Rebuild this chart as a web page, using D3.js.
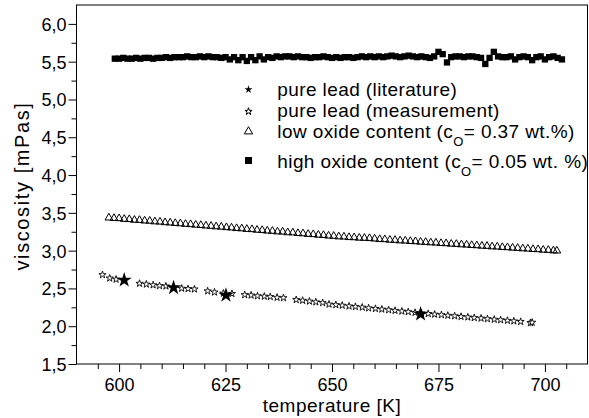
<!DOCTYPE html>
<html><head><meta charset="utf-8">
<script src="https://cdn.jsdelivr.net/npm/d3@7/dist/d3.min.js"></script>
<style>
body{margin:0;background:#fff;}
text{font-family:"Liberation Sans",Arial,sans-serif;fill:#000;}
</style></head>
<body><svg id="c" width="589" height="418"></svg>
<script>
// ---- data ----
const squareT = [599,600,601,602,603,604,605,606,607,608,609,610,611,612,613,614,
615,616,617,618,619,620,621,622,623,624,625,
626,627,628,629,630,631,632,633,634,635,636,
637,638,639,640,641,642,643,644,645,646,647,648,649,650,651,652,653,654,655,656,657,658,659,
660,661,662,663,664,665,666,667,668,669,670,671,672,673,674,
675,676,677,
678,679,680,681,682,683,684,685,
686,687,688,
689,690,691,692,693,694,695,696,697,698,699,700,701,702,703,704];
const squareV = [5.54,5.54,5.55,5.54,5.54,5.55,5.54,5.55,5.55,5.54,5.55,5.55,5.56,5.55,5.56,5.56,
5.56,5.57,5.56,5.56,5.57,5.56,5.57,5.56,5.56,5.55,5.56,
5.53,5.56,5.52,5.56,5.51,5.56,5.52,5.57,5.53,5.56,5.55,
5.57,5.56,5.57,5.57,5.56,5.57,5.56,5.56,5.55,5.56,5.56,5.57,5.56,5.55,5.56,5.55,5.56,5.56,5.55,5.56,5.57,5.56,5.57,
5.56,5.57,5.56,5.57,5.58,5.57,5.56,5.57,5.58,5.57,5.56,5.57,5.56,5.55,5.57,
5.63,5.60,5.49,
5.56,5.57,5.57,5.56,5.57,5.57,5.56,5.55,
5.47,5.55,5.63,
5.57,5.56,5.56,5.57,5.53,5.56,5.57,5.56,5.52,5.56,5.57,5.53,5.56,5.57,5.55,5.53];

const triT = [597.6,598.8,600.0,601.2,602.4,603.6,604.8,606.0,607.2,608.4,
609.6,610.8,612.0,613.2,614.4,615.6,616.8,618.0,619.2,620.4,
621.6,622.8,624.0,625.2,626.4,627.6,628.8,630.0,631.2,632.4,
633.6,634.8,636.0,637.2,638.4,639.6,640.8,642.0,643.2,644.4,
645.6,646.8,648.0,649.2,650.4,651.6,652.8,654.0,655.2,656.4,
657.6,658.8,660.0,661.2,662.4,663.6,664.8,666.0,667.2,668.4,
669.6,670.8,672.0,673.2,674.4,675.6,676.8,678.0,679.2,680.4,
681.6,682.8,684.0,685.2,686.4,687.6,688.8,690.0,691.2,692.4,
693.6,694.8,696.0,697.2,698.4,699.6,700.8,702.0,702.8];
const triV = [3.435,3.428,3.426,3.417,3.414,3.405,3.403,3.395,3.392,3.384,
3.381,3.373,3.369,3.362,3.358,3.351,3.347,3.340,3.336,3.329,
3.325,3.318,3.314,3.307,3.303,3.295,3.292,3.284,3.281,3.273,
3.270,3.262,3.259,3.251,3.249,3.240,3.238,3.229,3.226,3.218,
3.215,3.207,3.204,3.196,3.193,3.185,3.183,3.176,3.174,3.168,
3.166,3.163,3.157,3.150,3.148,3.141,3.139,3.132,3.130,3.124,
3.121,3.115,3.112,3.106,3.104,3.097,3.095,3.088,3.086,3.080,
3.077,3.071,3.068,3.062,3.060,3.053,3.051,3.044,3.042,3.036,
3.033,3.027,3.024,3.018,3.016,3.009,3.007,3.000,2.998];

const measT = [596.1,597.8,599.3,604.8,606.4,608.0,609.5,611.0,614.7,616.2,617.7,
620.8,622.4,624.5,626.5,629.5,631.0,632.5,634.1,635.5,637.1,638.6,
641.6,643.1,644.7,646.2,647.8,649.3,650.9,652.4,654.0,655.5,657.1,658.6,660.2,661.7,663.3,664.8,666.4,667.9,669.5,
671.0,672.6,674.1,675.7,677.2,678.8,680.3,681.9,683.4,685.0,686.5,688.1,689.6,691.2,692.7,694.3,696.6,697.0];
const measV = [2.68,2.635,2.62,2.565,2.555,2.545,2.535,2.53,2.50,2.495,2.49,
2.465,2.45,2.435,2.43,2.415,2.41,2.40,2.395,2.39,2.38,2.375,
2.35,2.34,2.33,2.32,2.31,2.29,2.283,2.275,2.265,2.258,2.25,2.24,2.232,2.224,2.215,2.207,2.198,2.19,2.18,
2.173,2.165,2.157,2.15,2.142,2.135,2.127,2.12,2.112,2.105,2.097,2.09,2.083,2.075,2.068,2.06,2.045,2.05];

const litT = [601.2,612.8,625.1,670.8];
const litV = [2.61,2.51,2.41,2.16];

const xTicks = [600,625,650,675,700];
const xMinor = [595,605,610,615,620,630,635,640,645,655,660,665,670,680,685,690,695,705];
const yTicks = [1.5,2.0,2.5,3.0,3.5,4.0,4.5,5.0,5.5,6.0];
const yMinor = [1.75,2.25,2.75,3.25,3.75,4.25,4.75,5.25,5.75];

const legendItems = ["pure lead (literature)","pure lead (measurement)",
  ["low oxide content (c","O","= 0.37 wt.%)"],
  ["high oxide content (c","O","= 0.05 wt. %)"]];

// ---- chart ----
const svg = d3.select("#c");
const L=76.5, R=587.5, T=5, B=364;
const x = d3.scaleLinear().domain([590,710]).range([L,R]);
const y = d3.scaleLinear().domain([1.5,6.25]).range([B,T]);
const fmt = d => d3.format(".1f")(d).replace(".",",");

// axes
const gx = svg.append("g").attr("transform",`translate(0,${B})`);
gx.call(d3.axisBottom(x).tickValues(xMinor).tickSize(5).tickFormat(""));
gx.call(g=>g.select(".domain").remove());
const gx2 = svg.append("g").attr("transform",`translate(0,${B})`)
  .call(d3.axisBottom(x).tickValues(xTicks).tickSize(8).tickPadding(6).tickFormat(d3.format("d")));
gx2.select(".domain").remove();
gx2.selectAll("text").attr("font-size",18).attr("font-family","Liberation Sans, Arial");

const gy = svg.append("g").attr("transform",`translate(${L},0)`);
gy.call(d3.axisLeft(y).tickValues(yMinor).tickSize(5).tickFormat(""));
gy.select(".domain").remove();
const gy2 = svg.append("g").attr("transform",`translate(${L},0)`)
  .call(d3.axisLeft(y).tickValues(yTicks).tickSize(8).tickPadding(2).tickFormat(fmt));
gy2.select(".domain").remove();
gy2.selectAll("text").attr("font-size",18).attr("font-family","Liberation Sans, Arial").attr("dy","0.36em");
svg.selectAll(".tick line").attr("stroke","#000");

// frame
svg.append("rect").attr("x",L).attr("y",T).attr("width",R-L).attr("height",B-T)
  .attr("fill","none").attr("stroke","#000").attr("stroke-width",1);

// titles
svg.append("text").attr("x",(L+R)/2).attr("y",412).attr("text-anchor","middle")
  .attr("font-size",19).attr("letter-spacing",0.5).text("temperature [K]");
svg.append("text").attr("transform","translate(29,186) rotate(-90)").attr("text-anchor","middle")
  .attr("font-size",20).attr("letter-spacing",1.6).text("viscosity [mPas]");

// marks
const sym = (t,s)=>d3.symbol().type(t).size(s)();
const sq = d3.range(squareT.length).map(i=>[squareT[i],squareV[i]]);
svg.append("g").selectAll("path").data(sq).join("path")
  .attr("transform",d=>`translate(${x(d[0])},${y(d[1])})`)
  .attr("d",sym(d3.symbolSquare,40)).attr("fill","#000");

const tr = d3.range(triT.length).map(i=>[triT[i],triV[i]]);
svg.append("g").selectAll("path").data(tr).join("path")
  .attr("transform",d=>`translate(${x(d[0])},${y(d[1])})`)
  .attr("d",sym(d3.symbolTriangle,26)).attr("fill","none").attr("stroke","#000").attr("stroke-width",1);

const ms = d3.range(measT.length).map(i=>[measT[i],measV[i]]);
svg.append("g").selectAll("path").data(ms).join("path")
  .attr("transform",d=>`translate(${x(d[0])},${y(d[1])})`)
  .attr("d",sym(d3.symbolStar,16)).attr("fill","#fff").attr("stroke","#000").attr("stroke-width",0.9);

const lt = d3.range(litT.length).map(i=>[litT[i],litV[i]]);
svg.append("g").selectAll("path").data(lt).join("path")
  .attr("transform",d=>`translate(${x(d[0])},${y(d[1])})`)
  .attr("d",sym(d3.symbolStar,72)).attr("fill","#000");

// legend
const lg = svg.append("g");
const rowsY = [95.5,116.5,137.5,167.5];
const symDefs = [
  {t:d3.symbolStar,s:20,fill:"#000",stroke:"none",dy:-6},
  {t:d3.symbolStar,s:16,fill:"#fff",stroke:"#000",dy:-5},
  {t:d3.symbolTriangle,s:30,fill:"none",stroke:"#000",dy:-6},
  {t:d3.symbolSquare,s:49,fill:"#000",stroke:"none",dy:-7}];
legendItems.forEach((it,i)=>{
  const sd = symDefs[i];
  lg.append("path").attr("transform",`translate(248.5,${rowsY[i]+sd.dy})`)
    .attr("d",sym(sd.t,sd.s)).attr("fill",sd.fill).attr("stroke",sd.stroke).attr("stroke-width",1);
  const t = lg.append("text").attr("x",277.3).attr("y",rowsY[i]).attr("font-size",19).attr("letter-spacing",0.4);
  if (typeof it === "string") t.text(it);
  else {
    t.append("tspan").text(it[0]);
    t.append("tspan").attr("font-size",13).attr("dy",8).text(it[1]);
    t.append("tspan").attr("dy",-8).text(it[2]);
  }
});
</script></body></html>
